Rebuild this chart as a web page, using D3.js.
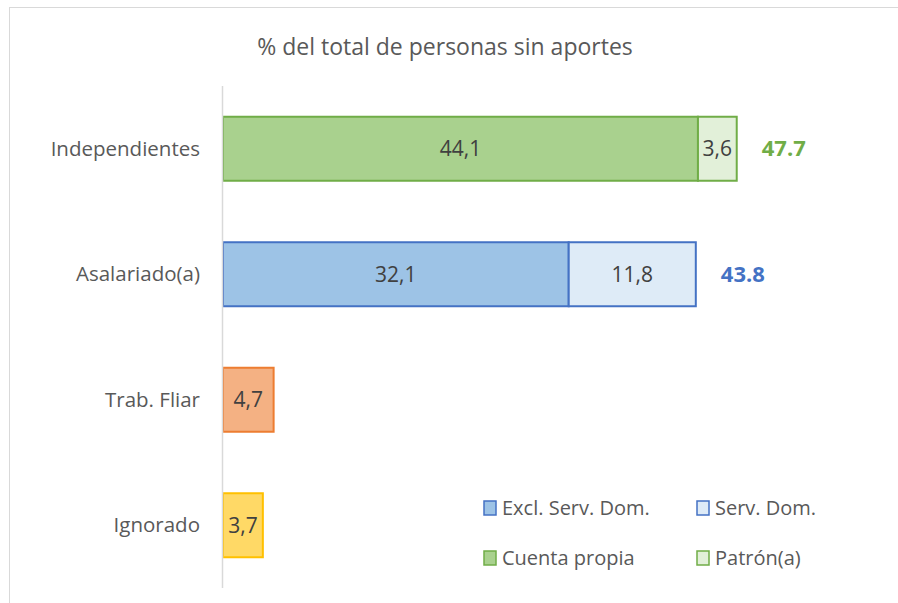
<!DOCTYPE html>
<html>
<head>
<script src="https://cdn.jsdelivr.net/npm/d3@7"></script>
<style>
	body { margin: 0; background: #fff; }
	text { font-family: "Open Sans", Lato, sans-serif; }
</style>
</head>
<body>
<div id="chart"></div>
<script>
	// data
	var categories = ["Independientes", "Asalariado(a)", "Trab. Fliar", "Ignorado"];
	var mainValues = [44.1, 32.1, 4.7, 3.7];
	var subValues = [3.6, 11.8, 0, 0];
	var totalLabels = ["47.7", "43.8", null, null];

	var mainFill = ["#A9D18E", "#9DC3E6", "#F4B183", "#FFD966"],
		subFill = ["#E2F0D9", "#DEEBF7", null, null],
		strokes = ["#70AD47", "#4472C4", "#ED7D31", "#FFC000"];

	var legendNames = ["Excl. Serv. Dom.", "Serv. Dom.", "Cuenta propia", "Patrón(a)"],
		legendFill = ["#9DC3E6", "#DEEBF7", "#A9D18E", "#E2F0D9"],
		legendStroke = ["#4472C4", "#4472C4", "#70AD47", "#70AD47"];

	var width = 898,
		height = 603;

	var svg = d3.select("#chart").append("svg")
		.attr("width", width)
		.attr("height", height);

	// chart frame
	svg.append("rect")
		.attr("x", 9.5).attr("y", 7.5)
		.attr("width", 900).attr("height", 620)
		.attr("fill", "#fff")
		.attr("stroke", "#d9d9d9");

	svg.append("text")
		.attr("x", 445).attr("y", 55)
		.attr("text-anchor", "middle")
		.attr("font-size", 23)
		.attr("fill", "#595959")
		.text("% del total de personas sin aportes");

	var x = d3.scaleLinear()
		.domain([0, 60])
		.range([223, 223 + 60 * 10.77]);

	var y = d3.scaleBand()
		.domain(categories)
		.range([86, 588])
		.paddingInner(0.49)
		.paddingOuter(0.245);

	var fmt = function(v) { return d3.format(".1f")(v).replace(".", ","); };

	// category labels
	svg.selectAll(".cat")
		.data(categories)
		.enter().append("text")
		.attr("x", 200)
		.attr("y", function(d) { return y(d) + y.bandwidth() / 2; })
		.attr("dy", "0.35em")
		.attr("text-anchor", "end")
		.attr("font-size", 20.5)
		.attr("fill", "#595959")
		.text(function(d) { return d; });

	// main segments
	var rows = svg.selectAll(".row")
		.data(categories)
		.enter().append("g");

	rows.append("rect")
		.attr("x", x(0))
		.attr("y", function(d) { return y(d); })
		.attr("width", function(d, i) { return x(mainValues[i]) - x(0); })
		.attr("height", y.bandwidth())
		.attr("fill", function(d, i) { return mainFill[i]; })
		.attr("stroke", function(d, i) { return strokes[i]; })
		.attr("stroke-width", 2);

	rows.filter(function(d, i) { return subValues[i] > 0; })
		.append("rect")
		.attr("x", function(d) { var i = categories.indexOf(d); return x(mainValues[i]); })
		.attr("y", function(d) { return y(d); })
		.attr("width", function(d) { var i = categories.indexOf(d); return x(mainValues[i] + subValues[i]) - x(mainValues[i]); })
		.attr("height", y.bandwidth())
		.attr("fill", function(d) { return subFill[categories.indexOf(d)]; })
		.attr("stroke", function(d) { return strokes[categories.indexOf(d)]; })
		.attr("stroke-width", 2);

	// value labels
	rows.append("text")
		.attr("x", function(d, i) { return x(mainValues[i] / 2); })
		.attr("y", function(d) { return y(d) + y.bandwidth() / 2; })
		.attr("dy", "0.35em")
		.attr("text-anchor", "middle")
		.attr("font-size", 21)
		.attr("fill", "#404040")
		.text(function(d, i) { return fmt(mainValues[i]); });

	rows.filter(function(d, i) { return subValues[i] > 0; })
		.append("text")
		.attr("x", function(d) { var i = categories.indexOf(d); return x(mainValues[i] + subValues[i] / 2); })
		.attr("y", function(d) { return y(d) + y.bandwidth() / 2; })
		.attr("dy", "0.35em")
		.attr("text-anchor", "middle")
		.attr("font-size", 21)
		.attr("fill", "#404040")
		.text(function(d) { return fmt(subValues[categories.indexOf(d)]); });

	// totals
	rows.filter(function(d, i) { return totalLabels[i]; })
		.append("text")
		.attr("x", function(d) { var i = categories.indexOf(d); return x(mainValues[i] + subValues[i]) + 25; })
		.attr("y", function(d) { return y(d) + y.bandwidth() / 2; })
		.attr("dy", "0.35em")
		.attr("font-size", 22)
		.attr("font-weight", "bold")
		.attr("fill", function(d) { return strokes[categories.indexOf(d)]; })
		.text(function(d) { return totalLabels[categories.indexOf(d)]; });

	// axis line
	svg.append("line")
		.attr("x1", 222.5).attr("x2", 222.5)
		.attr("y1", 86).attr("y2", 588)
		.attr("stroke", "#d9d9d9")
		.attr("stroke-width", 1.5);

	// legend
	var leg = svg.selectAll(".leg")
		.data(legendNames)
		.enter().append("g")
		.attr("transform", function(d, i) {
			return "translate(" + (484 + (i % 2) * 213) + "," + (501 + Math.floor(i / 2) * 50) + ")";
		});

	leg.append("rect")
		.attr("width", 12).attr("height", 14)
		.attr("fill", function(d, i) { return legendFill[i]; })
		.attr("stroke", function(d, i) { return legendStroke[i]; })
		.attr("stroke-width", 1.5);

	leg.append("text")
		.attr("x", 18)
		.attr("y", 7)
		.attr("dy", "0.35em")
		.attr("font-size", 20)
		.attr("fill", "#595959")
		.text(function(d) { return d; });
</script>
</body>
</html>
